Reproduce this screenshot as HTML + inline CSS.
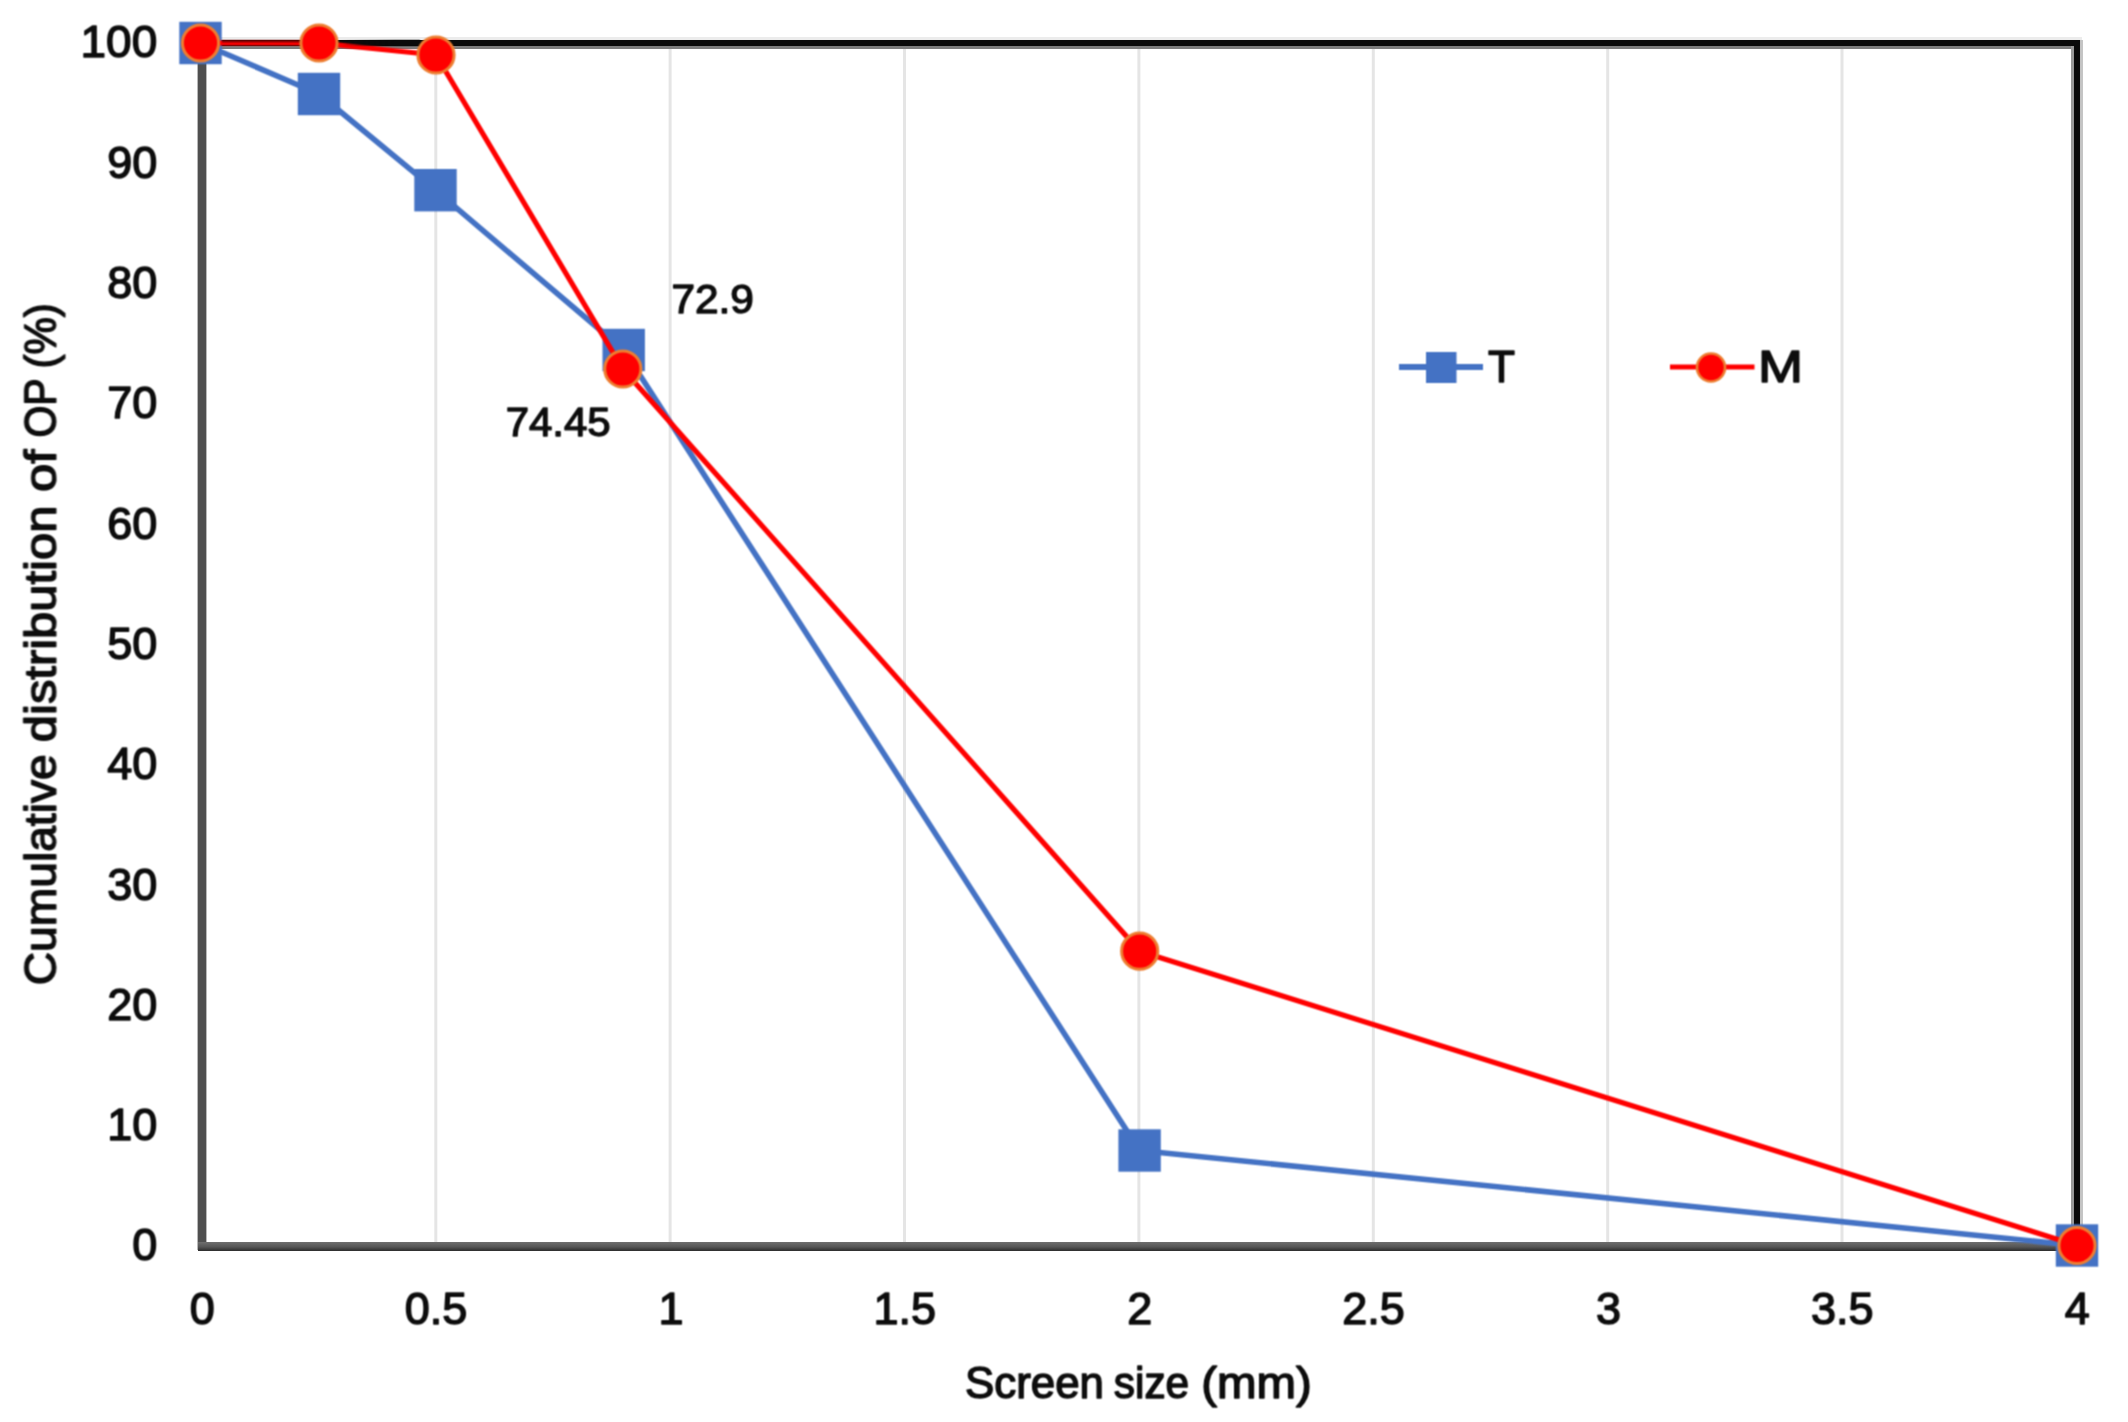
<!DOCTYPE html>
<html lang="en"><head><meta charset="utf-8"><title>Cumulative distribution of OP</title>
<style>html,body{margin:0;padding:0;background:#fff;}body{width:2128px;height:1422px;overflow:hidden;}svg{display:block;}text{font-family:"Liberation Sans",sans-serif;font-weight:normal;fill:#0d0d0d;stroke:#0d0d0d;stroke-width:1.45px;stroke-linejoin:round;}</style>
</head><body>
<svg width="2128" height="1422" viewBox="0 0 2128 1422">
<defs>
<linearGradient id="gb" x1="0" y1="0" x2="0" y2="1"><stop offset="0" stop-color="#6e6e6e"/><stop offset="0.55" stop-color="#555"/><stop offset="1" stop-color="#2b2b2b"/></linearGradient>
<linearGradient id="fade" x1="0" y1="0" x2="1" y2="0"><stop offset="0" stop-color="#0a0a0a" stop-opacity="0"/><stop offset="0.7" stop-color="#0a0a0a" stop-opacity="1"/><stop offset="1" stop-color="#0a0a0a" stop-opacity="1"/></linearGradient>
<filter id="soft" x="0" y="0" width="100%" height="100%" filterUnits="userSpaceOnUse" color-interpolation-filters="sRGB"><feConvolveMatrix order="3" kernelMatrix="1 2 1 2 4 2 1 2 1" divisor="16" edgeMode="duplicate" preserveAlpha="false"/></filter>
</defs>
<rect width="2128" height="1422" fill="#fff"/>
<g stroke="#e5e5e5" stroke-width="3">
<line x1="435.8" y1="46" x2="435.8" y2="1243"/>
<line x1="670.1" y1="46" x2="670.1" y2="1243"/>
<line x1="904.5" y1="46" x2="904.5" y2="1243"/>
<line x1="1138.9" y1="46" x2="1138.9" y2="1243"/>
<line x1="1373.3" y1="46" x2="1373.3" y2="1243"/>
<line x1="1607.7" y1="46" x2="1607.7" y2="1243"/>
<line x1="1842.0" y1="46" x2="1842.0" y2="1243"/>
</g>
<rect x="206" y="37" width="1876" height="3" fill="#ececec"/>
<rect x="206" y="46" width="1866" height="3" fill="#7d7d7d"/>
<rect x="2071" y="46" width="3" height="1190" fill="#999"/>
<rect x="2080" y="40" width="3" height="1196" fill="#c4c4c4"/>
<rect x="206" y="40" width="1874" height="6" fill="#0a0a0a"/>
<rect x="2074" y="40" width="6" height="1200" fill="#0a0a0a"/>
<rect x="197.6" y="50" width="8.8" height="1200" fill="#4f4f4f"/>
<rect x="198" y="1242" width="1870" height="9" fill="url(#gb)"/>
<g filter="url(#soft)">
<polyline points="200.5,43.0 319.0,94.0 435.5,190.2 623.7,350.0 1139.6,1150.5 2077.0,1245.5" fill="none" stroke="#4472c4" stroke-width="5.6" stroke-linejoin="round"/>
<rect x="179.3" y="21.8" width="42.4" height="42.4" fill="#4472c4"/>
<rect x="297.8" y="72.8" width="42.4" height="42.4" fill="#4472c4"/>
<rect x="414.3" y="169.0" width="42.4" height="42.4" fill="#4472c4"/>
<rect x="602.5" y="328.8" width="42.4" height="42.4" fill="#4472c4"/>
<rect x="1118.4" y="1129.3" width="42.4" height="42.4" fill="#4472c4"/>
<rect x="2055.8" y="1224.3" width="42.4" height="42.4" fill="#4472c4"/>
<polyline points="200.5,43.0 319.0,43.0 436.0,55.0 622.8,369.0 1139.7,951.2 2077.0,1245.5" fill="none" stroke="#ff0000" stroke-width="5.2" stroke-linejoin="round"/>
<rect x="222" y="40" width="78" height="2.4" fill="#7a0000"/>
<rect x="340" y="40" width="80" height="6" fill="url(#fade)"/>
<circle cx="200.5" cy="43.0" r="18.1" fill="#ff0000" stroke="#ed7d31" stroke-width="3"/>
<circle cx="319.0" cy="43.0" r="18.1" fill="#ff0000" stroke="#ed7d31" stroke-width="3"/>
<circle cx="436.0" cy="55.0" r="18.1" fill="#ff0000" stroke="#ed7d31" stroke-width="3"/>
<circle cx="622.8" cy="369.0" r="18.1" fill="#ff0000" stroke="#ed7d31" stroke-width="3"/>
<circle cx="1139.7" cy="951.2" r="18.1" fill="#ff0000" stroke="#ed7d31" stroke-width="3"/>
<circle cx="2077.0" cy="1245.5" r="18.1" fill="#ff0000" stroke="#ed7d31" stroke-width="3"/>
<line x1="1399" y1="367" x2="1483" y2="367" stroke="#4472c4" stroke-width="5.8"/>
<rect x="1426" y="352" width="30.5" height="31" fill="#4472c4"/>
<line x1="1670" y1="367" x2="1754.5" y2="367" stroke="#ff0000" stroke-width="5.2"/>
<circle cx="1711" cy="367.5" r="14" fill="#ff0000" stroke="#ed7d31" stroke-width="2.6"/>
</g>
<g filter="url(#soft)">
<text x="157.2" y="1260.4" font-size="45.0" text-anchor="end">0</text>
<text x="157.2" y="1140.1" font-size="45.0" text-anchor="end">10</text>
<text x="157.2" y="1019.8" font-size="45.0" text-anchor="end">20</text>
<text x="157.2" y="899.5" font-size="45.0" text-anchor="end">30</text>
<text x="157.2" y="779.2" font-size="45.0" text-anchor="end">40</text>
<text x="157.2" y="658.9" font-size="45.0" text-anchor="end">50</text>
<text x="157.2" y="538.6" font-size="45.0" text-anchor="end">60</text>
<text x="157.2" y="418.3" font-size="45.0" text-anchor="end">70</text>
<text x="157.2" y="298.0" font-size="45.0" text-anchor="end">80</text>
<text x="157.2" y="177.7" font-size="45.0" text-anchor="end">90</text>
<text x="157.2" y="57.4" font-size="45.0" text-anchor="end" textLength="76.6" lengthAdjust="spacingAndGlyphs">100</text>
<text x="202.3" y="1323.9" font-size="45.0" text-anchor="middle">0</text>
<text x="436.0" y="1323.9" font-size="45.0" text-anchor="middle">0.5</text>
<text x="671.0" y="1323.9" font-size="45.0" text-anchor="middle">1</text>
<text x="904.7" y="1323.9" font-size="45.0" text-anchor="middle">1.5</text>
<text x="1139.8" y="1323.9" font-size="45.0" text-anchor="middle">2</text>
<text x="1373.5" y="1323.9" font-size="45.0" text-anchor="middle">2.5</text>
<text x="1608.5" y="1323.9" font-size="45.0" text-anchor="middle">3</text>
<text x="1842.2" y="1323.9" font-size="45.0" text-anchor="middle">3.5</text>
<text x="2077.3" y="1323.9" font-size="45.0" text-anchor="middle">4</text>
<text y="1398" font-size="43.8"><tspan x="965.0" textLength="139.0" lengthAdjust="spacingAndGlyphs">Screen</tspan> <tspan x="1113.8" textLength="75.4" lengthAdjust="spacingAndGlyphs">size</tspan> <tspan x="1201.3" textLength="110.6" lengthAdjust="spacingAndGlyphs">(mm)</tspan></text>
<text transform="translate(55.7 0) rotate(-90)" y="0" font-size="44.3"><tspan x="-985.3" textLength="231.0" lengthAdjust="spacingAndGlyphs">Cumulative</tspan> <tspan x="-742.2" textLength="236.6" lengthAdjust="spacingAndGlyphs">distribution</tspan> <tspan x="-492.0" textLength="42.5" lengthAdjust="spacingAndGlyphs">of</tspan> <tspan x="-437.6" textLength="58.6" lengthAdjust="spacingAndGlyphs">OP</tspan> <tspan x="-368.6" textLength="65.3" lengthAdjust="spacingAndGlyphs">(%)</tspan></text>
<text x="1488" y="382.2" font-size="44.2" textLength="27" lengthAdjust="spacingAndGlyphs">T</text>
<text x="1758" y="382.2" font-size="44.2" textLength="45" lengthAdjust="spacingAndGlyphs">M</text>
<text x="712.7" y="312.5" font-size="39.8" style="stroke-width:1.35px" text-anchor="middle" textLength="82.5" lengthAdjust="spacingAndGlyphs">72.9</text>
<text x="558.2" y="435.8" font-size="39.8" style="stroke-width:1.35px" text-anchor="middle" textLength="105" lengthAdjust="spacingAndGlyphs">74.45</text>
</g>
</svg>
</body></html>
